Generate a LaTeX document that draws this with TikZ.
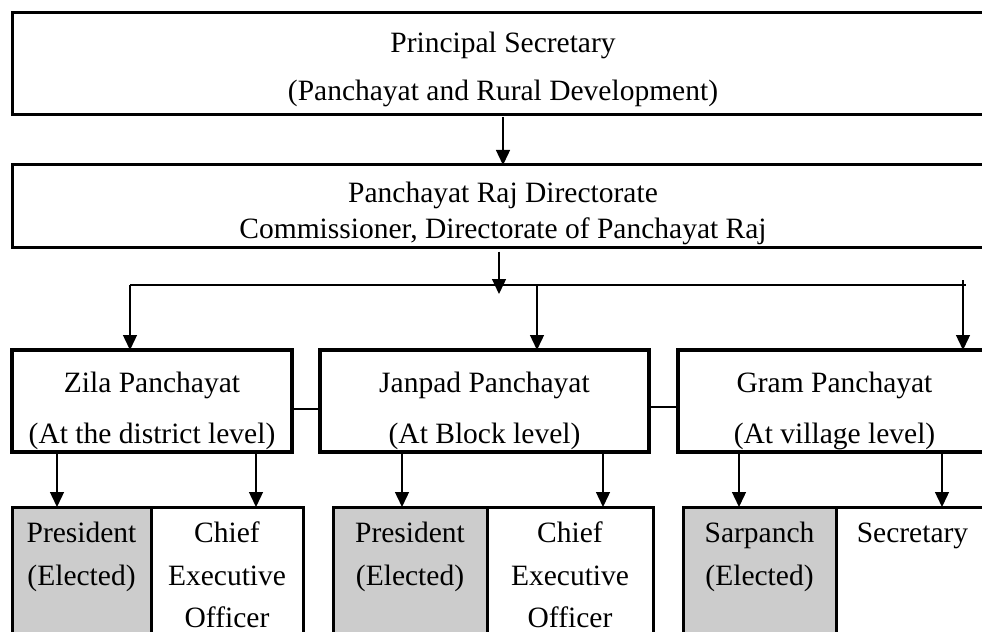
\documentclass[tikz,border=0pt]{standalone}
\usepackage{fontspec}
\setmainfont{Liberation Serif}
\usetikzlibrary{arrows.meta}
\definecolor{shade}{HTML}{CCCCCC}
\begin{document}
\begin{tikzpicture}[x=1bp,y=-1bp,
  frame/.style={draw=black, line width=3bp, anchor=north west, inner sep=0pt, outer sep=0pt},
  midframe/.style={frame, line width=3.5bp},
  grayframe/.style={frame, fill=shade},
  txt/.style={anchor=base, inner sep=0pt, outer sep=0pt, font=\fontsize{29.5bp}{36bp}\selectfont},
  conn/.style={draw=black, line width=1.4bp},
  arr/.style={conn, -{Triangle[width=14bp,length=15bp]}},
]
\useasboundingbox (0,0) rectangle (982,632);
\clip (0,0) rectangle (982,632);
\fill[white] (0,0) rectangle (982,632);

% top boxes
\node[frame, minimum width=982bp, minimum height=102bp] (ps) at (12,13) {};
\node[txt] (ps1) at (503,53) {Principal Secretary};
\node[txt] (ps2) at (503,101) {(Panchayat and Rural Development)};

\node[frame, minimum width=982bp, minimum height=82.5bp] (dir) at (12,165) {};
\node[txt] (d1) at (503,203) {Panchayat Raj Directorate};
\node[txt] (d2) at (503,239) {Commissioner, Directorate of Panchayat Raj};

% middle boxes
\node[midframe, minimum width=280bp, minimum height=102bp] (zila) at (12,350) {};
\node[txt] (z1) at (152,392) {Zila Panchayat};
\node[txt] (z2) at (152,443) {(At the district level)};

\node[midframe, minimum width=329bp, minimum height=102bp] (janpad) at (320,350) {};
\node[txt] (j1) at (484.5,392) {Janpad Panchayat};
\node[txt] (j2) at (484.5,443) {(At Block level)};

\node[midframe, minimum width=313bp, minimum height=102bp] (gram) at (678,350) {};
\node[txt] (g1) at (834.5,392) {Gram Panchayat};
\node[txt] (g2) at (834.5,443) {(At village level)};

% bottom boxes
\node[grayframe, minimum width=139bp, minimum height=150bp] (pres1) at (12,507) {};
\node[frame, minimum width=152bp, minimum height=150bp] (ceo1) at (151,507) {};
\node[grayframe, minimum width=154bp, minimum height=150bp] (pres2) at (333,507) {};
\node[frame, minimum width=166bp, minimum height=150bp] (ceo2) at (487,507) {};
\node[grayframe, minimum width=153bp, minimum height=150bp] (sar) at (683,507) {};
\node[frame, minimum width=153bp, minimum height=150bp] (sec) at (836,507) {};

\node[txt] (p1a) at (81.5,542) {President};
\node[txt] (p1b) at (81.5,585) {(Elected)};
\node[txt] (c1a) at (227,542) {Chief};
\node[txt] (c1b) at (227,585) {Executive};
\node[txt] (c1c) at (227,627) {Officer};
\node[txt] (p2a) at (410,542) {President};
\node[txt] (p2b) at (410,585) {(Elected)};
\node[txt] (c2a) at (570,542) {Chief};
\node[txt] (c2b) at (570,585) {Executive};
\node[txt] (c2c) at (570,627) {Officer};
\node[txt] (s1a) at (759.5,542) {Sarpanch};
\node[txt] (s1b) at (759.5,585) {(Elected)};
\node[txt] (s2a) at (912.5,542) {Secretary};

% connectors
\draw[arr, shorten <=2bp] (ps.south) -- (dir.north);

\coordinate (bt) at (499,294);
\draw[arr, shorten <=4bp] (dir.south -| bt) -- (bt);

\coordinate (busL) at (130,285);
\coordinate (busR) at (966,285);
\draw[conn] (busL) -- (busR);
\draw[arr] (busL) -- (zila.north -| busL);
\coordinate (jd) at (537,285);
\draw[arr] (jd) -- (janpad.north -| jd);
\coordinate (gd) at (963,280);
\draw[arr] (gd) -- (gram.north -| gd);

\draw[conn] ([yshift=-8bp]zila.east) -- ([yshift=-8bp]janpad.west);
\draw[conn] ([yshift=-6bp]janpad.east) -- ([yshift=-6bp]gram.west);

\coordinate (a1) at (57,0);
\coordinate (a2) at (256,0);
\coordinate (a3) at (402,0);
\coordinate (a4) at (603,0);
\coordinate (a5) at (739,0);
\coordinate (a6) at (942,0);
\draw[arr] (zila.south -| a1) -- (pres1.north -| a1);
\draw[arr] (zila.south -| a2) -- (ceo1.north -| a2);
\draw[arr] (janpad.south -| a3) -- (pres2.north -| a3);
\draw[arr] (janpad.south -| a4) -- (ceo2.north -| a4);
\draw[arr] (gram.south -| a5) -- (sar.north -| a5);
\draw[arr] (gram.south -| a6) -- (sec.north -| a6);
\end{tikzpicture}
\end{document}
